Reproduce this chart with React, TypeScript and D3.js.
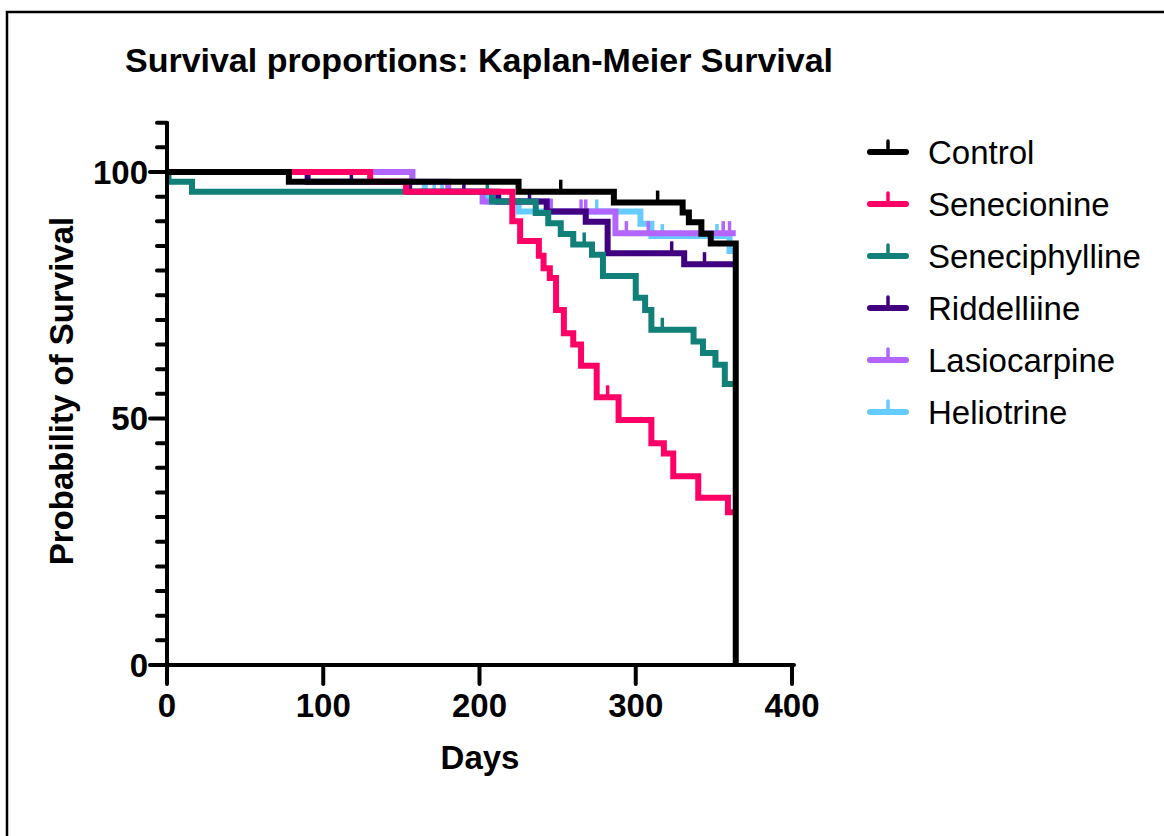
import * as d3 from 'd3'

const END_DAY = 364

const seriesNames = ['Control', 'Senecionine', 'Seneciphylline', 'Riddelliine', 'Lasiocarpine', 'Heliotrine']
const seriesColors = ['#000000', '#FF0066', '#118079', '#400080', '#B266FF', '#66CCFF']

// step times (days) and survival (%) after each step
const controlDays = [0, 78, 225, 286, 330, 334, 342, 348, 364]
const controlSurv = [100, 98, 96, 93.8, 91.8, 89.8, 87.5, 85.5, 0]
const controlCensor = [252, 314]

const senecionineDays = [0, 130, 153, 221, 226, 238, 241, 245, 249, 254, 260, 265, 275, 289, 310, 318, 324, 340, 359]
const senecionineSurv = [100, 98, 96, 90, 86, 83, 80.5, 78.5, 72, 67.3, 65, 60.7, 54.3, 49.7, 45, 42.9, 38.3, 33.9, 31]
const senecionineCensor = [282]

const seneciphyllineDays = [0, 1, 16, 208, 236, 244, 252, 260, 272, 279, 300, 306, 310, 337, 343, 351, 357]
const seneciphyllineSurv = [100, 98, 96, 94, 91.7, 89.6, 87.4, 85.3, 83.2, 78.9, 74.5, 72, 68, 65.6, 63.3, 60.9, 57]
const seneciphyllineCensor = [205, 267, 317]

const riddelliineDays = [0, 90, 155, 212, 243, 268, 282, 331]
const riddelliineSurv = [100, 98, 96, 94, 92, 89.9, 83.5, 81.3]
const riddelliineCensor = [118, 190, 232, 323, 344]

const lasiocarpineDays = [0, 157, 180, 202, 245, 287]
const lasiocarpineSurv = [100, 98, 96, 94, 92, 87.6]
const lasiocarpineCensor = [265, 268, 294, 308, 356, 360]

const heliotrineDays = [0, 157, 165, 205, 225, 303, 310, 360]
const heliotrineSurv = [100, 98, 96, 94, 92, 89.5, 87, 84]
const heliotrineCensor = [171, 176, 246, 275, 317, 352, 356]

const allDays = [controlDays, senecionineDays, seneciphyllineDays, riddelliineDays, lasiocarpineDays, heliotrineDays]
const allSurv = [controlSurv, senecionineSurv, seneciphyllineSurv, riddelliineSurv, lasiocarpineSurv, heliotrineSurv]
const allCensor = [controlCensor, senecionineCensor, seneciphyllineCensor, riddelliineCensor, lasiocarpineCensor, heliotrineCensor]

const xTicks = [0, 100, 200, 300, 400]
const yLabelTicks = [0, 50, 100]

export default function App() {
  const width = 1164
  const height = 836

  const x = d3.scaleLinear().domain([0, 400]).range([167, 792])
  const y = d3.scaleLinear().domain([0, 100]).range([665, 172])

  const line = d3.line<[number, number]>()
    .x(d => x(d[0]))
    .y(d => y(d[1]))
    .curve(d3.curveStepAfter)

  // value of a step curve at time t
  const survAt = (days: number[], surv: number[], t: number) => {
    let v = surv[0]
    for (let i = 0; i < days.length; i++) if (days[i] <= t) v = surv[i]
    return v
  }

  const minorTicks = d3.range(0, 111, 5)
  const font = 'Liberation Sans, Arial, sans-serif'

  const order = d3.range(seriesNames.length).reverse()

  return (
    <svg width={width} height={height} style={{ position: 'absolute', left: 0, top: 0, background: '#fff' }}>
      <rect x={7} y={12} width={1200} height={900} fill="none" stroke="#000" strokeWidth={2.5} />

      <text x={125} y={72} fontFamily={font} fontWeight="bold" fontSize={34} textLength={708}>
        Survival proportions: Kaplan-Meier Survival
      </text>

      {/* curves */}
      {order.map(i => {
        const days = allDays[i]
        const surv = allSurv[i]
        const pts: [number, number][] = days.map((d, k) => [d, surv[k]] as [number, number])
        if (days[days.length - 1] < END_DAY) pts.push([END_DAY, surv[surv.length - 1]])
        return (
          <g key={seriesNames[i]}>
            <path d={line(pts) || ''} fill="none" stroke={seriesColors[i]} strokeWidth={6} strokeLinejoin="miter" />
            {allCensor[i].map((c, k) => {
              const v = survAt(days, surv, c)
              return (
                <line key={k} x1={x(c)} x2={x(c)} y1={y(v)} y2={y(v) - 12}
                  stroke={seriesColors[i]} strokeWidth={3.5} />
              )
            })}
          </g>
        )
      })}

      {/* y axis */}
      <line x1={x(0)} x2={x(0)} y1={y(110) - 1} y2={y(0) + 2} stroke="#000" strokeWidth={4} />
      {minorTicks.map(t => (
        <line key={t} x1={x(0)} x2={x(0) - (yLabelTicks.includes(t) ? 17 : 10)} y1={y(t)} y2={y(t)}
          stroke="#000" strokeWidth={4} strokeLinecap="round" />
      ))}
      {yLabelTicks.map(t => (
        <text key={t} x={x(0) - 19} y={y(t)} dy="0.36em" textAnchor="end" fontFamily={font}
          fontWeight="bold" fontSize={33}>{t}</text>
      ))}

      {/* x axis */}
      <line x1={x(0)} x2={x(400) + 2} y1={y(0)} y2={y(0)} stroke="#000" strokeWidth={4} strokeLinecap="round" />
      {xTicks.map(t => (
        <g key={t}>
          <line x1={x(t)} x2={x(t)} y1={y(0)} y2={y(0) + 19} stroke="#000" strokeWidth={4} strokeLinecap="round" />
          <text x={x(t)} y={717} textAnchor="middle" fontFamily={font} fontWeight="bold" fontSize={33}>{t}</text>
        </g>
      ))}

      <text x={480} y={769} textAnchor="middle" fontFamily={font} fontWeight="bold" fontSize={33}>Days</text>
      <text transform="translate(73,391) rotate(-90)" textAnchor="middle" fontFamily={font}
        fontWeight="bold" fontSize={33}>Probability of Survival</text>

      {/* legend */}
      {seriesNames.map((name, i) => {
        const ly = 152 + i * 52
        return (
          <g key={name}>
            <line x1={870} x2={906} y1={ly} y2={ly} stroke={seriesColors[i]} strokeWidth={6} strokeLinecap="round" />
            <line x1={888} x2={888} y1={ly} y2={ly - 11} stroke={seriesColors[i]} strokeWidth={3.5} strokeLinecap="round" />
            <text x={928} y={ly} dy="0.36em" fontFamily={font} fontSize={33}>{name}</text>
          </g>
        )
      })}
    </svg>
  )
}
